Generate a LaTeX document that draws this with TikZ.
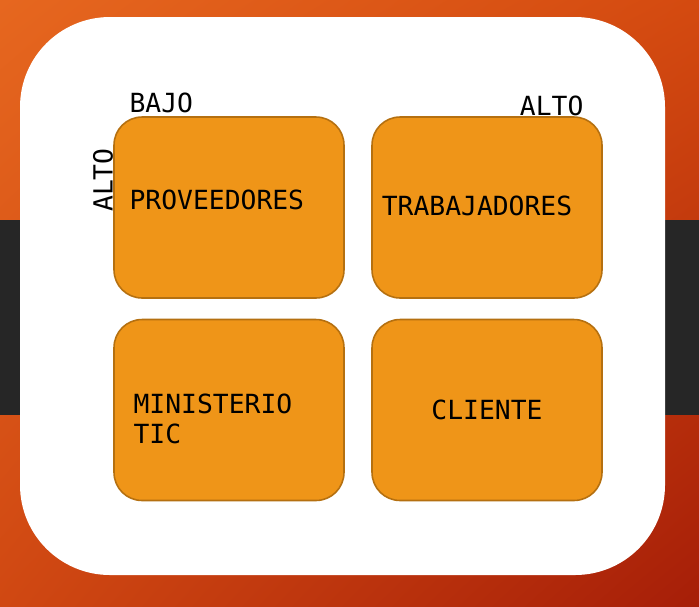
\documentclass[tikz,border=0pt]{standalone}
\usepackage{fontspec}
\setmonofont{DejaVu Sans Mono}
\usepackage{tikz}
\usetikzlibrary{positioning,shadings}

\begin{document}
\begin{tikzpicture}[x=0.02cm,y=-0.02cm]

% Colori
\definecolor{bgTL}{HTML}{E6671F}
\definecolor{bgTR}{HTML}{D44A10}
\definecolor{bgBL}{HTML}{D04812}
\definecolor{bgBR}{HTML}{A61E08}
\definecolor{band}{HTML}{262626}
\definecolor{boxFill}{HTML}{EF9518}
\definecolor{boxLine}{HTML}{B57010}

\tikzset{
  cuadro/.style={draw=boxLine, fill=boxFill, line width=0.9pt,
    rounded corners=0.56cm, minimum width=4.6cm, minimum height=3.62cm,
    inner sep=0pt},
  etiq/.style={font=\ttfamily\fontsize{15}{17.5}\selectfont, inner sep=0pt}
}

% Fondo
\useasboundingbox (0,0) rectangle (699,606);
\shade[upper left=bgTL, upper right=bgTR, lower left=bgBL, lower right=bgBR]
  (0,0) rectangle (699,606);
\fill[band] (0,220) rectangle (699,415);
\fill[white, rounded corners=1.8cm] (20,17) rectangle (665,575);

% Cuadrantes
\node[cuadro] (prov) at (229,207.5) {};
\node[cuadro] (trab) at (487,207.5) {};
\node[cuadro] (mini) at (229,410) {};
\node[cuadro] (clie) at (487,410) {};

% Textos
\node[etiq, anchor=west] (tprov) at ([xshift=0.32cm, yshift=0.15cm]prov.west) {PROVEEDORES};
\node[etiq] (ttrab) at ([xshift=-0.2cm, yshift=0.03cm]trab.center) {TRABAJADORES};
\node[etiq, anchor=west, align=left] (tmini) at ([xshift=0.4cm, yshift=-0.18cm]mini.west) {MINISTERIO\\TIC};
\node[etiq] (tclie) at (clie.center) {CLIENTE};

% Ejes
\node[etiq, anchor=south west] (bajo) at ([xshift=0.32cm, yshift=0.06cm]prov.north west) {BAJO};
\node[etiq, anchor=south east] (alto) at ([xshift=-0.38cm, yshift=0.0cm]trab.north east) {ALTO};
\node[etiq, rotate=90] (altov) at (103,180) {ALTO};

\end{tikzpicture}
\end{document}
